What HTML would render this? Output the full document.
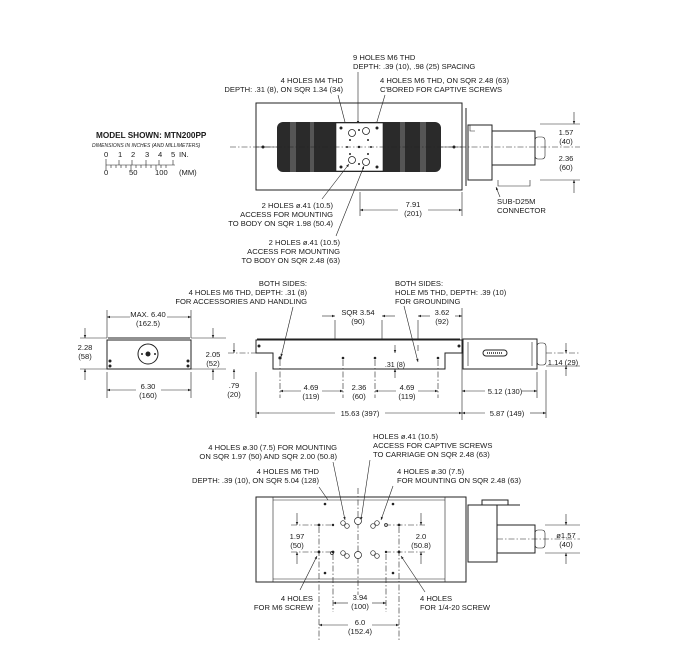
<!DOCTYPE html>
<html><head><meta charset="utf-8"><style>
html,body{margin:0;padding:0;background:#fff}
svg{display:block}
text{font-family:"Liberation Sans Narrow","Liberation Sans",sans-serif;font-size:7.6px;fill:#1a1a1a}
.s{stroke:#222;fill:none;stroke-width:1}
.t{stroke:#222;fill:none;stroke-width:0.6}
.d{stroke:#222;fill:none;stroke-width:0.6;stroke-dasharray:6 2 1.5 2}
</style></head><body>
<svg width="685" height="649" viewBox="0 0 685 649" xmlns="http://www.w3.org/2000/svg">
<defs>
<marker id="a" viewBox="0 0 10 10" refX="10" refY="5" markerWidth="8" markerHeight="5" orient="auto-start-reverse"><path d="M0,1 L10,5 L0,9 Z" fill="#222"/></marker>
</defs>

<text x="96" y="138" style="font-weight:bold;font-size:8.2px">MODEL SHOWN: MTN200PP</text>
<text x="92" y="147" style="font-style:italic;font-size:5px">DIMENSIONS IN INCHES (AND MILLIMETERS)</text>
<g style="font-size:5px">
<text x="104" y="157">0</text><text x="118" y="157">1</text><text x="131" y="157">2</text><text x="145" y="157">3</text><text x="158" y="157">4</text><text x="171" y="157">5</text><text x="179" y="157">IN.</text>
<text x="104" y="175">0</text><text x="129" y="175">50</text><text x="155" y="175">100</text><text x="179" y="175">(MM)</text>
</g>
<path class="t" d="M106,165 H175 M106,159 V170 M119,160 V165 M132,160 V165 M146,160 V165 M159,160 V165 M173,160 V165 M111,165V168 M116,165V168 M121,165V168 M126,165V168 M131,165V170 M136,165V168 M141,165V168 M146,165V168 M151,165V168 M156,165V170 M161,165V168 M166,165V168"/>

<text x="353" y="60">9 HOLES M6 THD</text>
<text x="353" y="69">DEPTH: .39 (10), .98 (25) SPACING</text>
<text x="343" y="83" text-anchor="end">4 HOLES M4 THD</text>
<text x="343" y="92" text-anchor="end">DEPTH: .31 (8), ON SQR 1.34 (34)</text>
<text x="380" y="83">4 HOLES M6 THD, ON SQR 2.48 (63)</text>
<text x="380" y="92">C'BORED FOR CAPTIVE SCREWS</text>
<path class="t" d="M358,72 V124" marker-end="url(#a)"/>
<path class="t" d="M338,95 L346,126" marker-end="url(#a)"/>
<path class="t" d="M385,95 L376,125" marker-end="url(#a)"/>

<rect class="s" x="256" y="103" width="206" height="87"/>
<rect x="277" y="122" width="164" height="50" rx="6" fill="#2a2a2a"/>
<g fill="#555"><rect x="290" y="122" width="6" height="50"/><rect x="310" y="122" width="4" height="50"/><rect x="400" y="122" width="5" height="50"/><rect x="420" y="122" width="6" height="50"/></g>
<rect x="336" y="123" width="47" height="48" fill="#fff" stroke="#222" stroke-width="0.6"/>
<g fill="#fff" stroke="#222" stroke-width="0.8">
<circle cx="352" cy="133" r="3.5"/><circle cx="366" cy="131" r="3.5"/><circle cx="352" cy="160" r="3.5"/><circle cx="366" cy="162" r="3.5"/>
</g>
<g fill="#222"><circle cx="341" cy="128" r="1.5"/><circle cx="377" cy="128" r="1.5"/><circle cx="341" cy="167" r="1.5"/><circle cx="377" cy="167" r="1.5"/><circle cx="359" cy="130" r="1"/><circle cx="347" cy="147" r="1"/><circle cx="359" cy="147" r="1.2"/><circle cx="371" cy="147" r="1"/><circle cx="359" cy="164" r="1"/><circle cx="350" cy="140" r="1"/><circle cx="368" cy="140" r="1"/><circle cx="350" cy="154" r="1"/><circle cx="368" cy="154" r="1"/><circle cx="263" cy="147" r="1.5"/><circle cx="454" cy="147" r="1.5"/></g>
<path class="t" d="M256,147 H277 M441,147 H462"/>
<path class="s" d="M462,105 V188 M466,108 V186"/>
<rect class="s" x="468" y="125" width="24" height="55"/>
<rect class="s" x="492" y="131" width="43" height="34"/>
<rect class="t" x="535" y="137" width="10" height="22" rx="3"/>
<path class="t" d="M470,125 V131 H475 M498,180 V186 H530 V180"/>
<path class="d" d="M230,147 H580"/>
<path class="t" d="M540,124 H580 M540,180 H580"/>
<path class="t" d="M574,112 V124" marker-end="url(#a)"/><path class="t" d="M574,193 V180" marker-end="url(#a)"/>
<text x="566" y="135" text-anchor="middle">1.57</text><text x="566" y="144" text-anchor="middle">(40)</text>
<text x="566" y="161" text-anchor="middle">2.36</text><text x="566" y="170" text-anchor="middle">(60)</text>
<text x="497" y="204">SUB-D25M</text><text x="497" y="213">CONNECTOR</text>
<path class="t" d="M500,197 L496,187" marker-end="url(#a)"/>
<path class="t" d="M360,192 V216 M462,192 V216"/>
<path class="t" d="M398,210 H360" marker-end="url(#a)"/><path class="t" d="M428,210 H462" marker-end="url(#a)"/>
<text x="413" y="207" text-anchor="middle">7.91</text><text x="413" y="216" text-anchor="middle">(201)</text>
<text x="333" y="208" text-anchor="end">2 HOLES ø.41 (10.5)</text>
<text x="333" y="217" text-anchor="end">ACCESS FOR MOUNTING</text>
<text x="333" y="226" text-anchor="end">TO BODY ON SQR 1.98 (50.4)</text>
<text x="340" y="245" text-anchor="end">2 HOLES ø.41 (10.5)</text>
<text x="340" y="254" text-anchor="end">ACCESS FOR MOUNTING</text>
<text x="340" y="263" text-anchor="end">TO BODY ON SQR 2.48 (63)</text>
<path class="t" d="M322,199 L349,164" marker-end="url(#a)"/>
<path class="t" d="M336,236 L364,166" marker-end="url(#a)"/>

<text x="307" y="286" text-anchor="end">BOTH SIDES:</text>
<text x="307" y="295" text-anchor="end">4 HOLES M6 THD, DEPTH: .31 (8)</text>
<text x="307" y="304" text-anchor="end">FOR ACCESSORIES AND HANDLING</text>
<text x="395" y="286">BOTH SIDES:</text>
<text x="395" y="295">HOLE M5 THD, DEPTH: .39 (10)</text>
<text x="395" y="304">FOR GROUNDING</text>
<path class="t" d="M293,307 L281,357" marker-end="url(#a)"/>
<path class="t" d="M404,306 L418,362" marker-end="url(#a)"/>

<rect class="s" x="107" y="340" width="84" height="29"/>
<path class="s" d="M108,338 H190"/>
<circle class="s" cx="148" cy="354" r="10"/><circle cx="148" cy="354" r="2.5" fill="#222"/>
<circle cx="142" cy="354" r="1" fill="#222"/><circle cx="155" cy="354" r="1" fill="#222"/>
<g fill="#222"><circle cx="110" cy="361" r="1.5"/><circle cx="110" cy="366" r="1.5"/><circle cx="188" cy="361" r="1.5"/><circle cx="188" cy="366" r="1.5"/></g>
<path class="t" d="M80,338 H107 M80,369 H107 M191,338 H226 M191,369 H226 M107,310 V338 M191,310 V338 M107,372 V398 M191,372 V398"/>
<path class="t" d="M130,317 H107" marker-end="url(#a)"/><path class="t" d="M167,317 H191" marker-end="url(#a)"/>
<text x="148" y="317" text-anchor="middle">MAX. 6.40</text><text x="148" y="326" text-anchor="middle">(162.5)</text>
<path class="t" d="M136,390 H107" marker-end="url(#a)"/><path class="t" d="M161,390 H191" marker-end="url(#a)"/>
<text x="148" y="389" text-anchor="middle">6.30</text><text x="148" y="398" text-anchor="middle">(160)</text>
<path class="t" d="M85,328 V338" marker-end="url(#a)"/><path class="t" d="M85,380 V369" marker-end="url(#a)"/>
<text x="85" y="350" text-anchor="middle">2.28</text><text x="85" y="359" text-anchor="middle">(58)</text>
<path class="t" d="M213,328 V338" marker-end="url(#a)"/><path class="t" d="M213,380 V369" marker-end="url(#a)"/>
<text x="213" y="357" text-anchor="middle">2.05</text><text x="213" y="366" text-anchor="middle">(52)</text>
<path class="t" d="M234,343 V353" marker-end="url(#a)"/><path class="t" d="M234,379 V369" marker-end="url(#a)"/>
<text x="234" y="388" text-anchor="middle">.79</text><text x="234" y="397" text-anchor="middle">(20)</text>
<path class="d" d="M228,353 H273"/>

<path class="s" d="M256,340 H462 V353 H445 V369 H273 V353 H256 Z"/>
<path class="s" d="M257,339 H460"/>
<g fill="#222"><circle cx="259" cy="346" r="1.5"/><circle cx="459" cy="346" r="1.5"/><circle cx="280" cy="358" r="1.6"/><circle cx="343" cy="358" r="1.3"/><circle cx="375" cy="358" r="1.3"/><circle cx="438" cy="358" r="1.3"/></g>
<rect class="s" x="463" y="339" width="74" height="30"/>
<rect class="t" x="537" y="343" width="9" height="22" rx="3"/>
<path class="t" d="M468,342 V366 M532,342 V366"/>
<rect x="483" y="350" width="24" height="6" rx="3" fill="#fff" stroke="#222" stroke-width="1"/>
<path d="M487,353 H503" stroke="#222" stroke-width="1.5" stroke-dasharray="1 1"/>
<path class="t" d="M335,320 V339 M382,320 V339 M418,320 V339 M462,308 V420 M256,372 V418 M546,370 V418 M537,372 V398"/>
<path class="d" d="M280,360 V398 M343,360 V398 M375,360 V398 M438,360 V398 M418,345 V352"/>
<path class="t" d="M322,316 H335" marker-end="url(#a)"/><path class="t" d="M395,316 H382" marker-end="url(#a)"/>
<text x="358" y="315" text-anchor="middle">SQR 3.54</text><text x="358" y="324" text-anchor="middle">(90)</text>
<path class="t" d="M430,316 H418" marker-end="url(#a)"/><path class="t" d="M455,316 H462" marker-end="url(#a)"/>
<text x="442" y="315" text-anchor="middle">3.62</text><text x="442" y="324" text-anchor="middle">(92)</text>
<path class="t" d="M395,345 V353" marker-end="url(#a)"/><path class="t" d="M395,378 V369" marker-end="url(#a)"/>
<text x="395" y="367" text-anchor="middle" style="font-size:7px">.31 (8)</text>
<path class="t" d="M301,391 H280" marker-end="url(#a)"/><path class="t" d="M322,391 H343" marker-end="url(#a)"/>
<text x="311" y="390" text-anchor="middle">4.69</text><text x="311" y="399" text-anchor="middle">(119)</text>
<text x="359" y="390" text-anchor="middle">2.36</text><text x="359" y="399" text-anchor="middle">(60)</text>
<path class="t" d="M396,391 H375" marker-end="url(#a)"/><path class="t" d="M418,391 H438" marker-end="url(#a)"/>
<text x="407" y="390" text-anchor="middle">4.69</text><text x="407" y="399" text-anchor="middle">(119)</text>
<path class="t" d="M485,391 H462" marker-end="url(#a)"/><path class="t" d="M522,391 H537" marker-end="url(#a)"/>
<text x="505" y="394" text-anchor="middle">5.12 (130)</text>
<path class="t" d="M335,413 H256" marker-end="url(#a)"/><path class="t" d="M385,413 H462" marker-end="url(#a)"/>
<text x="360" y="416" text-anchor="middle">15.63 (397)</text>
<path class="t" d="M485,413 H462" marker-end="url(#a)"/><path class="t" d="M530,413 H546" marker-end="url(#a)"/>
<text x="507" y="416" text-anchor="middle">5.87 (149)</text>
<path class="d" d="M546,353 H580"/><path class="t" d="M546,366 H580"/>
<path class="t" d="M566,343 V353" marker-end="url(#a)"/><path class="t" d="M566,376 V366" marker-end="url(#a)"/>
<text x="563" y="365" text-anchor="middle">1.14 (29)</text>

<text x="337" y="450" text-anchor="end">4 HOLES ø.30 (7.5) FOR MOUNTING</text>
<text x="337" y="459" text-anchor="end">ON SQR 1.97 (50) AND SQR 2.00 (50.8)</text>
<text x="373" y="439">HOLES ø.41 (10.5)</text>
<text x="373" y="448">ACCESS FOR CAPTIVE SCREWS</text>
<text x="373" y="457">TO CARRIAGE ON SQR 2.48 (63)</text>
<text x="319" y="474" text-anchor="end">4 HOLES M6 THD</text>
<text x="319" y="483" text-anchor="end">DEPTH: .39 (10), ON SQR 5.04 (128)</text>
<text x="397" y="474">4 HOLES ø.30 (7.5)</text>
<text x="397" y="483">FOR MOUNTING ON SQR 2.48 (63)</text>
<path class="t" d="M333,462 L345,520" marker-end="url(#a)"/>
<path class="t" d="M370,460 L361,520" marker-end="url(#a)"/>
<path class="t" d="M393,486 L381,520" marker-end="url(#a)"/>
<path class="t" d="M319,487 L328,500"/>

<rect class="s" x="256" y="497" width="210" height="85"/>
<path class="t" d="M273,497 V582 M445,497 V582 M273,500 H445 M273,579 H445"/>
<path class="d" d="M358,488 V595"/>
<g fill="#fff" stroke="#222" stroke-width="0.7">
<circle cx="358" cy="521" r="3.5"/><circle cx="358" cy="555" r="3.5"/>
<circle cx="343" cy="523" r="2.3"/><circle cx="347" cy="526" r="2.3"/><circle cx="373" cy="526" r="2.3"/><circle cx="377" cy="523" r="2.3"/>
<circle cx="343" cy="553" r="2.3"/><circle cx="347" cy="556" r="2.3"/><circle cx="373" cy="553" r="2.3"/><circle cx="377" cy="556" r="2.3"/>
<circle cx="386" cy="525" r="1.5"/><circle cx="332" cy="553" r="1.5"/>
</g>
<g fill="#222"><circle cx="325" cy="504" r="1.3"/><circle cx="393" cy="504" r="1.3"/><circle cx="325" cy="573" r="1.3"/><circle cx="393" cy="573" r="1.3"/>
<circle cx="319" cy="525" r="1.4"/><circle cx="333" cy="525" r="1.2"/><circle cx="399" cy="525" r="1.4"/>
<circle cx="319" cy="552" r="1.4"/><circle cx="333" cy="552" r="1.4"/><circle cx="386" cy="552" r="1.2"/><circle cx="399" cy="552" r="1.4"/></g>
<path class="d" d="M291,525 H333 M385,525 H425 M291,552 H333 M385,552 H425"/>
<path class="t" d="M297,513 V525" marker-end="url(#a)"/><path class="t" d="M297,564 V552" marker-end="url(#a)"/>
<text x="297" y="539" text-anchor="middle">1.97</text><text x="297" y="548" text-anchor="middle">(50)</text>
<path class="t" d="M421,513 V525" marker-end="url(#a)"/><path class="t" d="M421,564 V552" marker-end="url(#a)"/>
<text x="421" y="539" text-anchor="middle">2.0</text><text x="421" y="548" text-anchor="middle">(50.8)</text>
<path class="s" d="M466,500 V580"/>
<rect class="s" x="468" y="505" width="29" height="57"/>
<path class="s" d="M482,505 V500 H508 V505 M468,505 H520"/>
<rect class="s" x="497" y="525" width="38" height="28"/>
<rect class="t" x="535" y="530" width="10" height="18" rx="3"/>
<path class="d" d="M497,539 H580"/>
<path class="t" d="M545,525 H580 M545,553 H580"/>
<path class="t" d="M566,514 V525" marker-end="url(#a)"/><path class="t" d="M566,564 V553" marker-end="url(#a)"/>
<text x="566" y="538" text-anchor="middle">ø1.57</text><text x="566" y="547" text-anchor="middle">(40)</text>
<path class="d" d="M319,527 V640 M333,554 V612 M386,554 V612 M399,527 V640"/>
<path class="t" d="M300,590 L317,556" marker-end="url(#a)"/>
<path class="t" d="M425,592 L401,556" marker-end="url(#a)"/>
<text x="313" y="601" text-anchor="end">4 HOLES</text><text x="313" y="610" text-anchor="end">FOR M6 SCREW</text>
<text x="420" y="601">4 HOLES</text><text x="420" y="610">FOR 1/4-20 SCREW</text>
<path class="t" d="M348,603 H333" marker-end="url(#a)"/><path class="t" d="M372,603 H386" marker-end="url(#a)"/>
<text x="360" y="600" text-anchor="middle">3.94</text><text x="360" y="609" text-anchor="middle">(100)</text>
<path class="t" d="M348,625 H319" marker-end="url(#a)"/><path class="t" d="M372,625 H399" marker-end="url(#a)"/>
<text x="360" y="625" text-anchor="middle">6.0</text><text x="360" y="634" text-anchor="middle">(152.4)</text>
</svg>
</body></html>
